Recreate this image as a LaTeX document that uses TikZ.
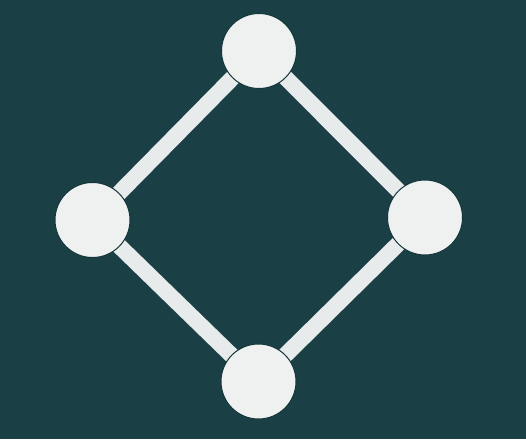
\documentclass[tikz,border=0pt]{standalone}
\definecolor{bg}{HTML}{1A4045}
\definecolor{nodefill}{HTML}{EFF1F1}
\definecolor{linkcol}{HTML}{E8EBEB}
\definecolor{edgecol}{HTML}{14353A}
\begin{document}
\begin{tikzpicture}[x=1pt,y=-1pt,
  dot/.style={circle,fill=nodefill,draw=edgecol,line width=1pt,minimum size=75pt,inner sep=0pt},
  link/.style={draw=linkcol,line width=16pt}]
\fill[bg] (0,0) rectangle (526,439);
\useasboundingbox (0,0) rectangle (526,439);
\coordinate (ct) at (259,51);
\coordinate (cl) at (92.5,220);
\coordinate (cr) at (425,217.5);
\coordinate (cb) at (258.5,381.5);
\draw[link] (ct) -- (cl);
\draw[link] (ct) -- (cr);
\draw[link] (cl) -- (cb);
\draw[link] (cr) -- (cb);
\node[dot] (top) at (ct) {};
\node[dot] (left) at (cl) {};
\node[dot] (right) at (cr) {};
\node[dot] (bottom) at (cb) {};
\end{tikzpicture}
\end{document}
